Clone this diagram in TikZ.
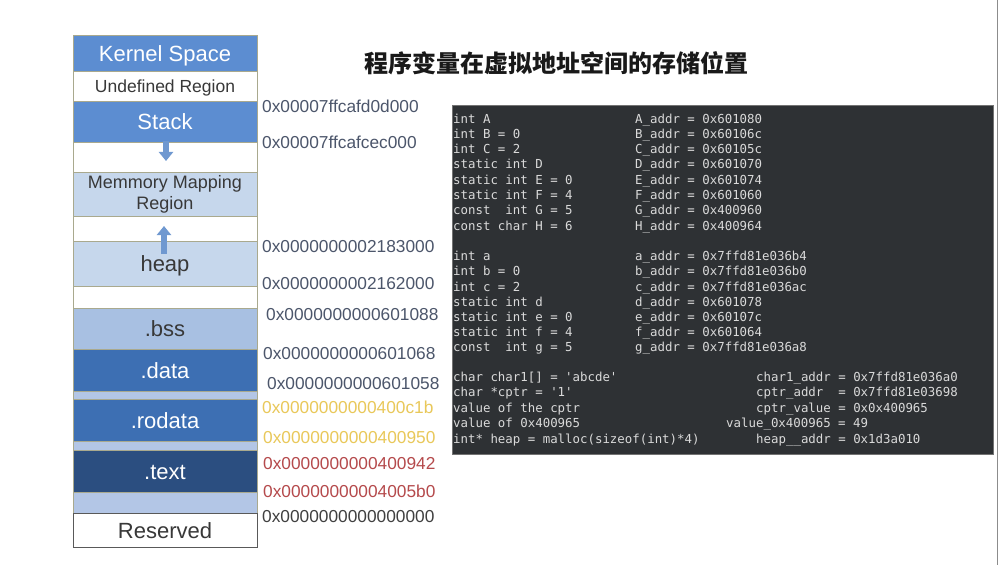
\documentclass[tikz,border=0pt]{standalone}
\usepackage{fontspec}
\setmainfont{Liberation Sans}
\setmonofont{DejaVu Sans Mono}
\newfontfamily\cjk{Noto Sans CJK SC}
\usetikzlibrary{arrows.meta}
\definecolor{kblue}{HTML}{5C8DD1}
\definecolor{lightblue}{HTML}{C6D7EC}
\definecolor{bssblue}{HTML}{A8C0E2}
\definecolor{datablue}{HTML}{3D6FB3}
\definecolor{textblue}{HTML}{2B4E80}
\definecolor{stripblue}{HTML}{B3C6E6}
\definecolor{borderc}{HTML}{A9A98E}
\definecolor{labeldark}{HTML}{383838}
\definecolor{addrc}{HTML}{4C566B}
\definecolor{addryellow}{HTML}{E9C85A}
\definecolor{addrred}{HTML}{B54A4C}
\definecolor{codebg}{HTML}{2E3134}
\definecolor{codefg}{HTML}{DADADA}
\definecolor{arrowc}{HTML}{6F98D0}
\begin{document}
\begin{tikzpicture}[x=1pt,y=-1pt,
  band/.style={draw=borderc, line width=0.6pt, minimum width=184pt, inner sep=0pt, anchor=north,
    text height=15.8pt, text depth=0pt, font=\fontsize{22}{26}\selectfont},
  darklbl/.style={text=labeldark},
  whitelbl/.style={text=white},
  addr/.style={anchor=base west, inner sep=0pt, font=\fontsize{17.3}{20}\selectfont, text=addrc},
  code/.style={anchor=base west, inner sep=0pt, font=\ttfamily\fontsize{12.4}{14}\selectfont, text=codefg},
  bigarrow/.style={draw=arrowc, line width=5.5pt, -{Triangle[width=14pt,length=9pt,fill=arrowc]}}
]
\useasboundingbox (0,0) rectangle (1000,588);
\fill[white] (0,0) rectangle (1000,588);

% title
\node[font=\cjk\bfseries\fontsize{24}{28}\selectfont, text=black!90] (title) at (556,63) {程序变量在虚拟地址空间的存储位置};

% memory map
\node[band, whitelbl, fill=kblue, minimum height=36pt] (kernel) at (165,35) {Kernel Space};
\node[band, darklbl, fill=white, minimum height=30pt, text height=12.6pt, font=\fontsize{17.5}{20}\selectfont] (undef) at (165,71) {Undefined Region};
\node[band, whitelbl, fill=kblue, minimum height=41pt] (stack) at (165,101) {Stack};
\node[band, fill=white, minimum height=30pt] (gapa) at (165,142) {};
\node[band, darklbl, fill=lightblue, minimum height=44pt, align=center, text height=, text depth=, font=\fontsize{18}{21}\selectfont] (mmr) at (165,172) {Memmory Mapping\\Region};
\node[band, fill=white, minimum height=25pt] (gapb) at (165,216) {};
\node[band, darklbl, fill=lightblue, minimum height=45pt] (heap) at (165,241) {heap};
\node[band, fill=white, minimum height=22pt] (gapc) at (165,286) {};
\node[band, darklbl, fill=bssblue, minimum height=41pt] (bss) at (165,308) {.bss};
\node[band, whitelbl, fill=datablue, minimum height=42pt] (data) at (165,349) {.data};
\node[band, fill=stripblue, minimum height=8pt] (stripa) at (165,391) {};
\node[band, whitelbl, fill=datablue, minimum height=42pt] (rodata) at (165,399) {.rodata};
\node[band, fill=stripblue, minimum height=9pt] (stripb) at (165,441) {};
\node[band, whitelbl, fill=textblue, minimum height=42pt] (textseg) at (165,450) {.text};
\node[band, fill=stripblue, minimum height=21pt] (stripc) at (165,492) {};
\node[band, darklbl, fill=white, draw=black!65, minimum height=34pt] (reserved) at (165,513) {Reserved};

% growth arrows
\coordinate (dstart) at (166,141);
\coordinate (dend) at (166,161);
\coordinate (ustart) at (164,254);
\coordinate (uend) at (164,226);
\draw[bigarrow] (dstart) -- (dend);
\draw[bigarrow] (ustart) -- (uend);

% addresses
\node[addr] (a1) at (262,113) {0x00007ffcafd0d000};
\node[addr] (a2) at (262,149) {0x00007ffcafcec000};
\node[addr] (a3) at (262,252) {0x0000000002183000};
\node[addr] (a4) at (262,289) {0x0000000002162000};
\node[addr] (a5) at (266,320) {0x0000000000601088};
\node[addr] (a6) at (263,359) {0x0000000000601068};
\node[addr] (a7) at (267,389) {0x0000000000601058};
\node[addr, text=addryellow] (a8) at (262,413) {0x0000000000400c1b};
\node[addr, text=addryellow] (a9) at (263,443) {0x0000000000400950};
\node[addr, text=addrred] (a10) at (263,469) {0x0000000000400942};
\node[addr, text=addrred] (a11) at (263,497) {0x00000000004005b0};
\node[addr, text=black!75] (a12) at (262,522) {0x0000000000000000};

% code panel
\node[draw=black!55, line width=1pt, fill=codebg, minimum width=541pt, minimum height=348pt, inner sep=0pt] (panel) at (722.5,280) {};

\node[code] (c1) at (453,123.5) {int A};
\node[code] (c2) at (453,138.5) {int B = 0};
\node[code] (c3) at (453,153.5) {int C = 2};
\node[code] (c4) at (453,168.5) {static int D};
\node[code] (c5) at (453,184.5) {static int E = 0};
\node[code] (c6) at (453,199.5) {static int F = 4};
\node[code] (c7) at (453,214.5) {const\ \ int G = 5};
\node[code] (c8) at (453,230.5) {const char H = 6};
\node[code] (c9) at (453,260.5) {int a};
\node[code] (c10) at (453,275.5) {int b = 0};
\node[code] (c11) at (453,291.5) {int c = 2};
\node[code] (c12) at (453,306.5) {static int d};
\node[code] (c13) at (453,321.5) {static int e = 0};
\node[code] (c14) at (453,336.5) {static int f = 4};
\node[code] (c15) at (453,351.5) {const\ \ int g = 5};
\node[code] (c16) at (453,381.5) {char char1[] = 'abcde'};
\node[code] (c17) at (453,396.5) {char *cptr = '1'};
\node[code] (c18) at (453,412.5) {value of the cptr};
\node[code] (c19) at (453,427.5) {value of 0x400965};
\node[code] (c20) at (453,443.5) {int* heap = malloc(sizeof(int)*4)};

\node[code] (d1) at (635,123.5) {A\_addr = 0x601080};
\node[code] (d2) at (635,138.5) {B\_addr = 0x60106c};
\node[code] (d3) at (635,153.5) {C\_addr = 0x60105c};
\node[code] (d4) at (635,168.5) {D\_addr = 0x601070};
\node[code] (d5) at (635,184.5) {E\_addr = 0x601074};
\node[code] (d6) at (635,199.5) {F\_addr = 0x601060};
\node[code] (d7) at (635,214.5) {G\_addr = 0x400960};
\node[code] (d8) at (635,230.5) {H\_addr = 0x400964};
\node[code] (d9) at (635,260.5) {a\_addr = 0x7ffd81e036b4};
\node[code] (d10) at (635,275.5) {b\_addr = 0x7ffd81e036b0};
\node[code] (d11) at (635,291.5) {c\_addr = 0x7ffd81e036ac};
\node[code] (d12) at (635,306.5) {d\_addr = 0x601078};
\node[code] (d13) at (635,321.5) {e\_addr = 0x60107c};
\node[code] (d14) at (635,336.5) {f\_addr = 0x601064};
\node[code] (d15) at (635,351.5) {g\_addr = 0x7ffd81e036a8};

\node[code] (e1) at (756,381.5) {char1\_addr = 0x7ffd81e036a0};
\node[code] (e2) at (756,396.5) {cptr\_addr\ \ = 0x7ffd81e03698};
\node[code] (e3) at (756,412.5) {cptr\_value = 0x0x400965};
\node[code] (e4) at (726,427.5) {value\_0x400965 = 49};
\node[code] (e5) at (756,443.5) {heap\_\_addr = 0x1d3a010};

% slide edge
\draw[black!45, line width=1pt] (997,0) -- (997,565);
\end{tikzpicture}
\end{document}
